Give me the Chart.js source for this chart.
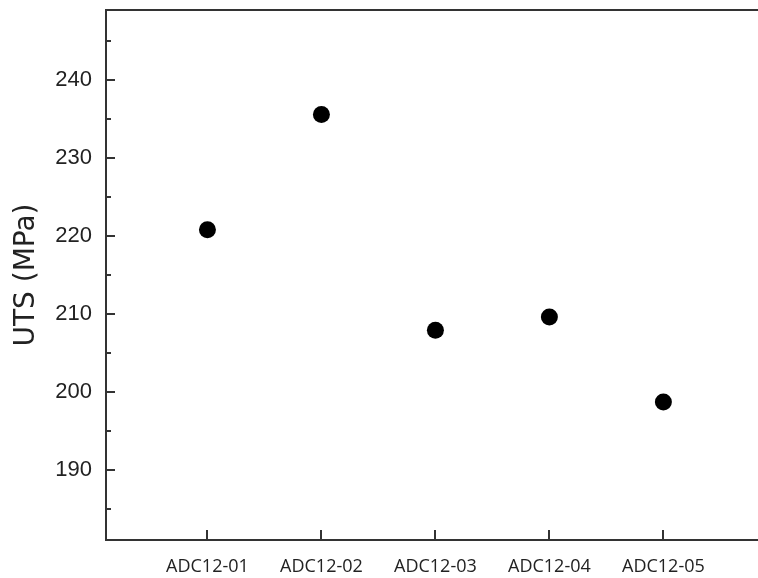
<!DOCTYPE html>
<html>
<head>
<meta charset="utf-8">
<script src="https://cdn.jsdelivr.net/npm/chart.js@4"></script>
<style>
  html, body { margin: 0; padding: 0; background: #fff; overflow: hidden; }
  #wrap { width: 758px; height: 578px; }
  canvas { display: block; }
</style>
</head>
<body>
<div id="wrap"><canvas id="c" width="758" height="578"></canvas></div>
<script>
// Ultimate tensile strength of the ADC12 die-cast samples
const samples = ['ADC12-01', 'ADC12-02', 'ADC12-03', 'ADC12-04', 'ADC12-05'];
const uts = [220.8, 235.6, 207.9, 209.6, 198.7];

// Axis ticks and ranges
const yTicks = [190, 200, 210, 220, 230, 240];
const yMinorTicks = [185, 195, 205, 215, 225, 235, 245];
const yRange = [181, 249];
const xRange = [0.11, 5.83];

const AXIS_COLOR = '#333';
const TEXT_COLOR = '#222';

// Drop the label overhang padding so the plot box fills the canvas
function noOverhang(s) {
  s.paddingTop = 0; s.paddingBottom = 0; s.paddingLeft = 0; s.paddingRight = 0;
}

// Inward-pointing tick marks plus the top frame line
const frameTicks = {
  id: 'frameTicks',
  afterDatasetsDraw(chart) {
    const { ctx, chartArea: a, scales: { x, y } } = chart;
    ctx.save();
    ctx.strokeStyle = AXIS_COLOR;
    ctx.lineWidth = 2;
    ctx.beginPath();
    ctx.moveTo(a.left - 1, a.top);
    ctx.lineTo(a.right, a.top);
    yTicks.forEach(v => {
      const py = Math.round(y.getPixelForValue(v));
      ctx.moveTo(a.left, py);
      ctx.lineTo(a.left + 9, py);
    });
    yMinorTicks.forEach(v => {
      const py = Math.round(y.getPixelForValue(v));
      ctx.moveTo(a.left, py);
      ctx.lineTo(a.left + 5, py);
    });
    samples.forEach((_, i) => {
      const px = Math.round(x.getPixelForValue(i + 1));
      ctx.moveTo(px, a.bottom);
      ctx.lineTo(px, a.bottom - 10);
    });
    ctx.stroke();
    ctx.restore();
  }
};

new Chart(document.getElementById('c'), {
  type: 'scatter',
  data: {
    datasets: [{
      label: 'UTS',
      data: uts.map((v, i) => ({ x: i + 1, y: v })),
      backgroundColor: '#000',
      borderColor: '#000',
      borderWidth: 0,
      pointRadius: 8.5,
      pointHoverRadius: 8.5
    }]
  },
  options: {
    responsive: false,
    devicePixelRatio: 1,
    animation: false,
    layout: { autoPadding: false, padding: { top: 10, right: 0, left: 0, bottom: 0 } },
    plugins: {
      legend: { display: false },
      tooltip: { enabled: false }
    },
    scales: {
      x: {
        type: 'linear',
        position: 'bottom',
        min: xRange[0],
        max: xRange[1],
        afterBuildTicks: s => { s.ticks = samples.map((_, i) => ({ value: i + 1 })); },
        afterFit: s => { s.height = 38; noOverhang(s); },
        ticks: {
          autoSkip: false,
          maxRotation: 0,
          padding: 16,
          color: TEXT_COLOR,
          font: { family: '"Open Sans", "Noto Sans", sans-serif', size: 18 },
          callback: v => samples[Math.round(v) - 1]
        },
        grid: { drawOnChartArea: false, drawTicks: false },
        border: { display: true, color: AXIS_COLOR, width: 2 }
      },
      y: {
        min: yRange[0],
        max: yRange[1],
        afterBuildTicks: s => { s.ticks = yTicks.map(v => ({ value: v })); },
        afterFit: s => { s.width = 106; noOverhang(s); },
        ticks: {
          padding: 14,
          color: TEXT_COLOR,
          font: { family: '"Liberation Sans", Arial, sans-serif', size: 22 }
        },
        grid: { drawOnChartArea: false, drawTicks: false },
        border: { display: true, color: AXIS_COLOR, width: 2 },
        title: {
          display: true,
          text: 'UTS (MPa)',
          color: TEXT_COLOR,
          font: { family: '"DejaVu Sans", sans-serif', size: 28 },
          padding: { top: 10, bottom: 0 }
        }
      }
    }
  },
  plugins: [frameTicks]
});
</script>
</body>
</html>
